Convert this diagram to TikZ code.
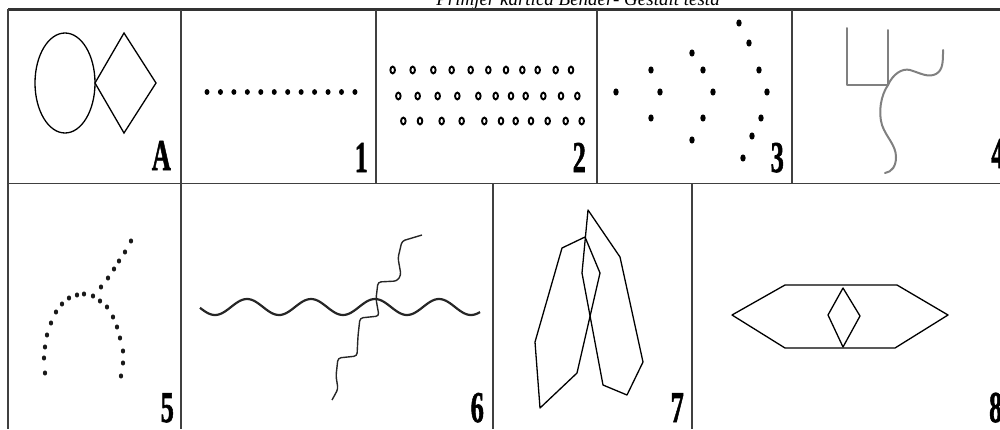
\documentclass[tikz,border=0pt]{standalone}
\usepackage{fontspec}
\setmainfont{Liberation Serif}
\newfontfamily\lblfont[FakeBold=1.6]{Liberation Serif}
\begin{document}
\begin{tikzpicture}[x=1pt,y=-1pt,
  rule/.style={line width=1.4pt, draw=black!75},
  toprule/.style={line width=3pt, draw=black!80},
  lbl/.style={font=\lblfont\bfseries\fontsize{44}{44}\selectfont, xscale=0.6, inner sep=0pt},
  fig/.style={line width=1.3pt, draw=black},
  bigdot/.style={fill=black},
  smalldot/.style={fill=black!90},
  ring/.style={line width=1.9pt, draw=black},
  graystroke/.style={line width=2pt, draw=black!50, line cap=round, line join=round},
  wave/.style={line width=2.2pt, draw=black!85},
  stair/.style={line width=1.4pt, draw=black!85, rounded corners=3pt}]
\useasboundingbox (0,0) rectangle (1000,429);
\clip (0,0) rectangle (1000,429);
% title
\node[font=\itshape\fontsize{19}{19}\selectfont, anchor=base, inner sep=0pt] (title) at (578,5) {Primjer kartica Bender- Gestalt testa};
% frame
\draw[toprule] (8,9.5) -- (1000,9.5);
\draw[rule] (8,9) -- (8,429);
\draw[rule] (8,183.5) -- (1000,183.5);
\foreach \xx in {181,376,597,792} \draw[rule] (\xx,10) -- (\xx,183);
\foreach \xx in {181,493,692} \draw[rule] (\xx,184) -- (\xx,429);
% labels
\node[lbl, anchor=base east] (lA) at (171,170) {A};
\node[lbl, anchor=base east] (l1) at (368,172) {1};
\node[lbl, anchor=base east] (l2) at (586,172) {2};
\node[lbl, anchor=base east] (l3) at (784,172) {3};
\node[lbl, anchor=base west] (l4) at (991,168) {4};
\node[lbl, anchor=base east] (l5) at (174,422) {5};
\node[lbl, anchor=base east] (l6) at (484,422) {6};
\node[lbl, anchor=base east] (l7) at (684,422) {7};
\node[lbl, anchor=base west] (l8) at (989,422) {8};
% A: circle and diamond
\draw[fig] (65,83) ellipse [x radius=30, y radius=50];
\draw[fig] (95,83) -- (124,33) -- (156,83) -- (124,133) -- cycle;
% 1: row of dots
\foreach \i in {0,...,11} \fill[bigdot] ({207+\i*13.45},92) ellipse [x radius=2.5, y radius=2.9];
% 2: three rows of rings
\foreach \zx in {68,128,190,245,302,355,408,457,503,557,603}
  \draw[ring] ({370+\zx/3},70) ellipse [x radius=2.3, y radius=3.4];
\foreach \zx in {85,143,203,262,325,377,423,467,520,573,622}
  \draw[ring] ({370+\zx/3},96) ellipse [x radius=2.3, y radius=3.4];
\foreach \zx in {100,150,215,275,343,393,437,483,533,587,635}
  \draw[ring] ({370+\zx/3},121) ellipse [x radius=2.3, y radius=3.4];
% 3: dots in arrow shapes
\foreach \p in {(616,92),(651,70),(660,92),(651,118),(692,53),(703,70),(713,92),(703,118),(692,140),(739,23),(749,43),(759,70),(767,92),(761,118),(752,136),(743,158)}
  \fill[bigdot] \p ellipse [x radius=2.7, y radius=3.6];
% 4: gray lines
\draw[graystroke] (847,28) -- (847,85) -- (888,85);
\draw[graystroke] (888,30) -- (888,85);
\draw[graystroke] (888,85) .. controls (893,74) and (902,68) .. (910,70) .. controls (920,73) and (928,78) .. (936,74) .. controls (943,70) and (943,62) .. (943,50);
\draw[graystroke] (888,85) .. controls (881,95) and (878,112) .. (882,125) .. controls (886,137) and (896,145) .. (896,157) .. controls (896,166) and (892,172) .. (885,173);
% 5: dotted arc and line
\foreach \p in {(45,373),(44,358),(45,347),(47,335),(51,323),(56,312),(62,304),(69,298),(77,295),(84,294),(93,296),(100,301),(107,307),(113,317),(117,327),(120,338),(123,351),(123,363),(121,376),(101,287),(108,278),(114,269),(119,261),(125,252),(131,241)}
  \fill[smalldot] \p ellipse [x radius=2.1, y radius=2.6];
% 6: wave and staircase
\draw[wave] plot[domain=200:480, samples=140, smooth] (\x, {307-8*cos(5.625*(\x-247))});
\draw[stair] (422,235) -- (402,241) -- (398,258) -- (401,275) -- (397,281) -- (378,282) -- (376,299) -- (379,316) -- (360,318) -- (358,336) -- (357,356) -- (338,358) -- (336,376) -- (338,389) -- (332,400);
% 7: two overlapping polygons
\draw[fig, line join=round] (585,237) -- (562,248) -- (535,342) -- (540,408) -- (577,373) -- (600,273) -- cycle;
\draw[fig, line join=round] (588,210) -- (620,257) -- (643,362) -- (627,395) -- (603,385) -- (582,273) -- cycle;
% 8: hexagon with diamond
\draw[fig, line join=round] (732,315) -- (785,285) -- (897,285) -- (948,315) -- (895,348) -- (785,348) -- cycle;
\draw[fig, line join=round] (843,288) -- (860,316) -- (843,347) -- (828,315) -- cycle;
\end{tikzpicture}
\end{document}
